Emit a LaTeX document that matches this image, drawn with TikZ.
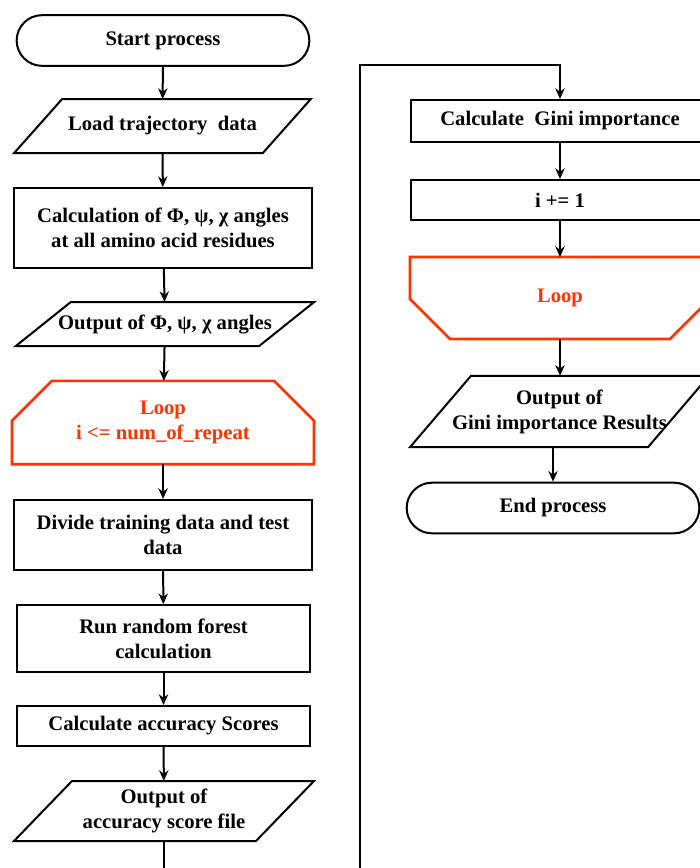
\documentclass[tikz,border=0pt]{standalone}
\usepackage{fontspec}
\setmainfont{Liberation Serif}
\usetikzlibrary{calc,arrows.meta,shapes.misc}
\definecolor{looporange}{RGB}{255,51,0}

\tikzset{
  base/.style={line width=1.5pt,align=center,inner sep=2pt,
    font=\fontsize{15.5}{18.8}\selectfont\bfseries},
  startstop/.style={base,draw,rounded rectangle,minimum width=223.5pt,minimum height=38pt},
  procbox/.style={base,draw,rectangle,minimum width=223.5pt},
  iobox/.style={base,rectangle},
  loopbox/.style={base,rectangle,text=looporange,minimum width=225pt,minimum height=61pt},
  loopline/.style={-,draw=looporange,line width=2pt,line join=miter},
  ioline/.style={-,draw,line width=1.5pt},
}
% parallelogram round a node: #1 node, #2 half of the slant (px)
\newcommand{\ioshape}[2]{%
  \draw[ioline] ($(#1.south west)+(-#2,0)$) -- ($(#1.north west)+(#2,0)$)
    -- ($(#1.north east)+(#2,0)$) -- ($(#1.south east)+(-#2,0)$) -- cycle;}

\begin{document}
\begin{tikzpicture}[x=0.75pt,y=-0.75pt,->,>={Stealth[length=8pt,width=7pt]},line width=1.5pt]
  \clip (0,0) rectangle (700,868);
  % left column
  \node[startstop] (start) at (163,40.5) {Start process};
  \node[iobox,minimum width=185pt,minimum height=39pt] (load) at (162.5,126) {Load trajectory\ \ data};
  \node[procbox,minimum height=60pt] (calc) at (163,228) {Calculation of Φ, ψ, χ angles\\at all amino acid residues};
  \node[iobox,minimum width=181pt,minimum height=31.5pt] (outang) at (165,324) {Output of Φ, ψ, χ angles};
  \node[loopbox] (loopin) at (163,422.5) {Loop\\i <= num\_of\_repeat};
  \node[procbox,minimum height=52.5pt] (divide) at (163,535) {Divide training data and test\\data};
  \node[procbox,minimum width=220pt,minimum height=50pt] (forest) at (163.5,638.5) {Run random forest\\calculation};
  \node[procbox,minimum width=220pt,minimum height=30pt] (acc) at (163.5,726) {Calculate accuracy Scores};
  \node[iobox,minimum width=180pt,minimum height=43.5pt] (outacc) at (164,811) {Output of\\accuracy score file};

  % right column
  \node[procbox,minimum height=31.5pt] (gini) at (560,121) {Calculate\ \ Gini importance};
  \node[procbox,minimum height=30pt] (incr) at (560,200) {i += 1};
  \node[loopbox,minimum width=223.5pt,minimum height=60pt] (loopout) at (560,298) {Loop};
  \node[iobox,minimum width=177pt,minimum height=52pt] (outgini) at (559.5,411.5) {Output of\\Gini importance Results};
  \node[startstop] (stop) at (553,508) {End process};

  % outlines
  \ioshape{load}{24}
  \ioshape{outang}{27.5}
  \ioshape{outacc}{29}
  \ioshape{outgini}{30.5}
  \draw[loopline] (loopin.south west) -- ($(loopin.north west)+(0,40)$) -- ($(loopin.north west)+(40,0)$)
    -- ($(loopin.north east)+(-40,0)$) -- ($(loopin.north east)+(0,40)$) -- (loopin.south east) -- cycle;
  \draw[loopline] (loopout.north west) -- ($(loopout.south west)+(0,-40)$) -- ($(loopout.south west)+(40,0)$)
    -- ($(loopout.south east)+(-40,0)$) -- ($(loopout.south east)+(0,-40)$) -- (loopout.north east) -- cycle;

  \coordinate (low) at (163,900);
  \coordinate (turn) at (360,65);

  \draw (start) -- (load);
  \draw (load) -- (calc);
  \draw (calc) -- (outang);
  \draw (outang) -- (loopin);
  \draw (loopin) -- (divide);
  \draw (divide) -- (forest);
  \draw (forest) -- (acc);
  \draw (acc) -- (outacc);
  \draw (outacc.south) -- (outacc.south |- low) -| (turn) -| (gini.north);
  \draw (gini) -- (incr);
  \draw (incr) -- (loopout);
  \draw (loopout) -- (loopout |- outgini.north);
  \draw (outgini.south -| stop.north) -- (stop.north);
\end{tikzpicture}
\end{document}
